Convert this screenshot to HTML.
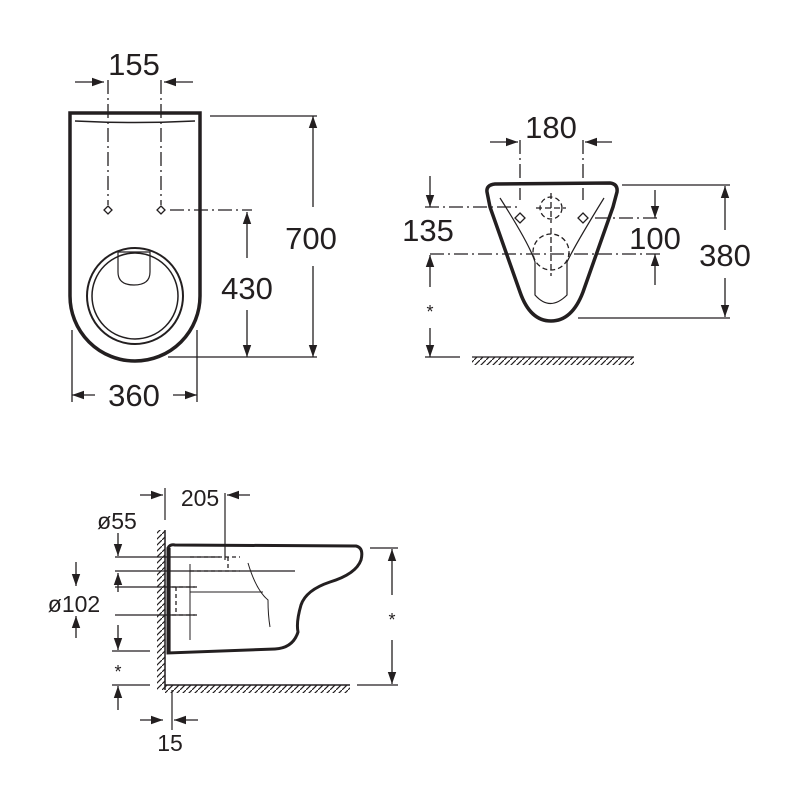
<!DOCTYPE html>
<html><head><meta charset="utf-8"><style>html,body{margin:0;background:#fff}svg{display:block}text{font-family:"Liberation Sans",sans-serif;fill:#231f20}</style></head><body>
<svg width="800" height="800" viewBox="0 0 800 800" xmlns="http://www.w3.org/2000/svg">
<defs>
<marker id="a" viewBox="0 0 10 10" refX="10" refY="5" markerWidth="12" markerHeight="12" orient="auto-start-reverse" markerUnits="userSpaceOnUse"><path d="M0,1.5 L10,5 L0,8.5 z" fill="#231f20"/></marker>
<pattern id="h" width="6" height="6" patternUnits="userSpaceOnUse"><path d="M-1,7 L7,-1" stroke="#231f20" stroke-width="1.2"/></pattern>
</defs>
<g stroke="#231f20" fill="none" stroke-width="1.3">
<!-- TOP LEFT -->
<path d="M70,113 H200 V296 A65,65 0 0 1 70,296 Z" stroke-width="3.5"/>
<path d="M75,121 Q135,124 195,121" stroke-width="1.5"/>
<circle cx="135" cy="296" r="48" stroke-width="2"/>
<circle cx="135" cy="296" r="43" stroke-width="1.5"/>
<path d="M118,252 V272 Q118,285 134,285 Q150,285 150,272 V252 Z" stroke-width="1.2"/>
<path d="M108,80 V205 M161,80 V205" stroke-dasharray="14,4,2,4"/>
<path d="M108,206 l4,4 -4,4 -4,-4z M161,206 l4,4 -4,4 -4,-4z"/>
<path d="M170,210 H252" stroke-dasharray="14,4,2,4"/>
<line x1="75" y1="82" x2="104" y2="82" marker-end="url(#a)"/>
<line x1="193" y1="82" x2="164" y2="82" marker-end="url(#a)"/>
<path d="M210,116 H317 M168,357 H317"/>
<line x1="313" y1="207" x2="313" y2="116" marker-end="url(#a)"/>
<line x1="313" y1="266" x2="313" y2="357" marker-end="url(#a)"/>
<line x1="247" y1="258" x2="247" y2="212" marker-end="url(#a)"/>
<line x1="247" y1="310" x2="247" y2="357" marker-end="url(#a)"/>
<path d="M72,330 V402 M197,330 V402"/>
<line x1="95" y1="395" x2="72" y2="395" marker-end="url(#a)"/>
<line x1="173" y1="395" x2="197" y2="395" marker-end="url(#a)"/>
<!-- TOP RIGHT -->
<path d="M487,192 Q486,185 495,184 L610,183 Q618,184 617,192 L613,207 L583,292 Q572,321 551,321 Q530,321 520,292 L490,207 Z" stroke-width="3.5"/>
<path d="M500,198 Q530,245 535,262 L535,295 Q550,312 567,295 L567,262 Q575,245 604,198" stroke-width="1.2"/>
<path d="M520,140 V200 M583,140 V200" stroke-dasharray="14,4,2,4"/>
<circle cx="551" cy="208" r="11" stroke-dasharray="5,3"/>
<circle cx="551" cy="252" r="18" stroke-dasharray="5,3"/>
<path d="M551,193 V223 M536,208 H566 M551,228 V276" stroke-dasharray="6,3"/>
<path d="M520,213 l5,5 -5,5 -5,-5z M583,213 l5,5 -5,5 -5,-5z"/>
<path d="M425,207 H520 M430,254 H660 M595,218 H660" stroke-dasharray="14,4,2,4"/>
<line x1="490" y1="142" x2="518" y2="142" marker-end="url(#a)"/>
<line x1="612" y1="142" x2="585" y2="142" marker-end="url(#a)"/>
<line x1="430" y1="176" x2="430" y2="207" marker-end="url(#a)"/>
<line x1="430" y1="287" x2="430" y2="255" marker-end="url(#a)"/>
<line x1="430" y1="328" x2="430" y2="357" marker-end="url(#a)"/>
<path d="M425,357 H460"/>
<rect x="472" y="357" width="162" height="8" fill="url(#h)" stroke="none"/>
<path d="M472,357 H634"/>
<line x1="655" y1="190" x2="655" y2="218" marker-end="url(#a)"/>
<line x1="655" y1="285" x2="655" y2="254" marker-end="url(#a)"/>
<path d="M622,185 H730 M578,318 H730"/>
<line x1="725" y1="230" x2="725" y2="186" marker-end="url(#a)"/>
<line x1="725" y1="278" x2="725" y2="317" marker-end="url(#a)"/>
<!-- BOTTOM -->
<rect x="157" y="530" width="8" height="160" fill="url(#h)" stroke="none"/>
<rect x="165" y="685" width="185" height="8" fill="url(#h)" stroke="none"/>
<path d="M165,530 V690 M165,685 H350" stroke-width="1.5"/>
<path d="M168,548 Q170,544 175,545 L356,546 Q364,548 361,560 Q356,574 330,582 Q306,590 301,605 Q296,622 298,632 Q293,648 275,649 L168,653 Z" stroke-width="3"/>
<path d="M170,548 V653 M172,690 V730" stroke-width="1.2"/>
<path d="M115,557 H220 M115,571 H295 M115,587 H195 M115,615 H195 M112,651 H150 M112,685 H150" stroke-width="1.2"/>
<path d="M190,557 H240 M190,571 H240 M172,587 H200 M172,615 H200 M176,587 V615 M228,557 V571" stroke-dasharray="4,3"/>
<path d="M190,564 V640 M248,563 Q256,590 268,600 Q268,615 270,627 M190,592 H263" stroke-width="1"/>
<path d="M225,493 V560 M165,488 V520" stroke-width="1.2"/>
<line x1="140" y1="495" x2="163" y2="495" marker-end="url(#a)"/>
<line x1="250" y1="495" x2="227" y2="495" marker-end="url(#a)"/>
<line x1="118" y1="533" x2="118" y2="556" marker-end="url(#a)"/>
<line x1="76" y1="562" x2="76" y2="586" marker-end="url(#a)"/>
<line x1="76" y1="638" x2="76" y2="616" marker-end="url(#a)"/>
<line x1="118" y1="592" x2="118" y2="573" marker-end="url(#a)"/>
<line x1="118" y1="625" x2="118" y2="650" marker-end="url(#a)"/>
<line x1="118" y1="710" x2="118" y2="686" marker-end="url(#a)"/>
<line x1="140" y1="720" x2="163" y2="720" marker-end="url(#a)"/>
<line x1="198" y1="720" x2="174" y2="720" marker-end="url(#a)"/>
<path d="M370,548 H398 M357,685 H398"/>
<line x1="392" y1="595" x2="392" y2="549" marker-end="url(#a)"/>
<line x1="392" y1="640" x2="392" y2="684" marker-end="url(#a)"/>
</g>
<g font-size="31" text-anchor="middle">
<text x="134" y="75">155</text>
<text x="311" y="249">700</text>
<text x="247" y="299">430</text>
<text x="134" y="406">360</text>
<text x="551" y="138">180</text>
<text x="428" y="241">135</text>
<text x="655" y="249">100</text>
<text x="725" y="266">380</text>
</g>
<g font-size="23" text-anchor="middle">
<text x="200" y="506">205</text>
<text x="117" y="529">ø55</text>
<text x="74" y="612">ø102</text>
<text x="170" y="751">15</text>
</g>
<g font-size="18" text-anchor="middle">
<text x="430" y="318">*</text>
<text x="118" y="678">*</text>
<text x="392" y="626">*</text>
</g>
</svg>
</body></html>
